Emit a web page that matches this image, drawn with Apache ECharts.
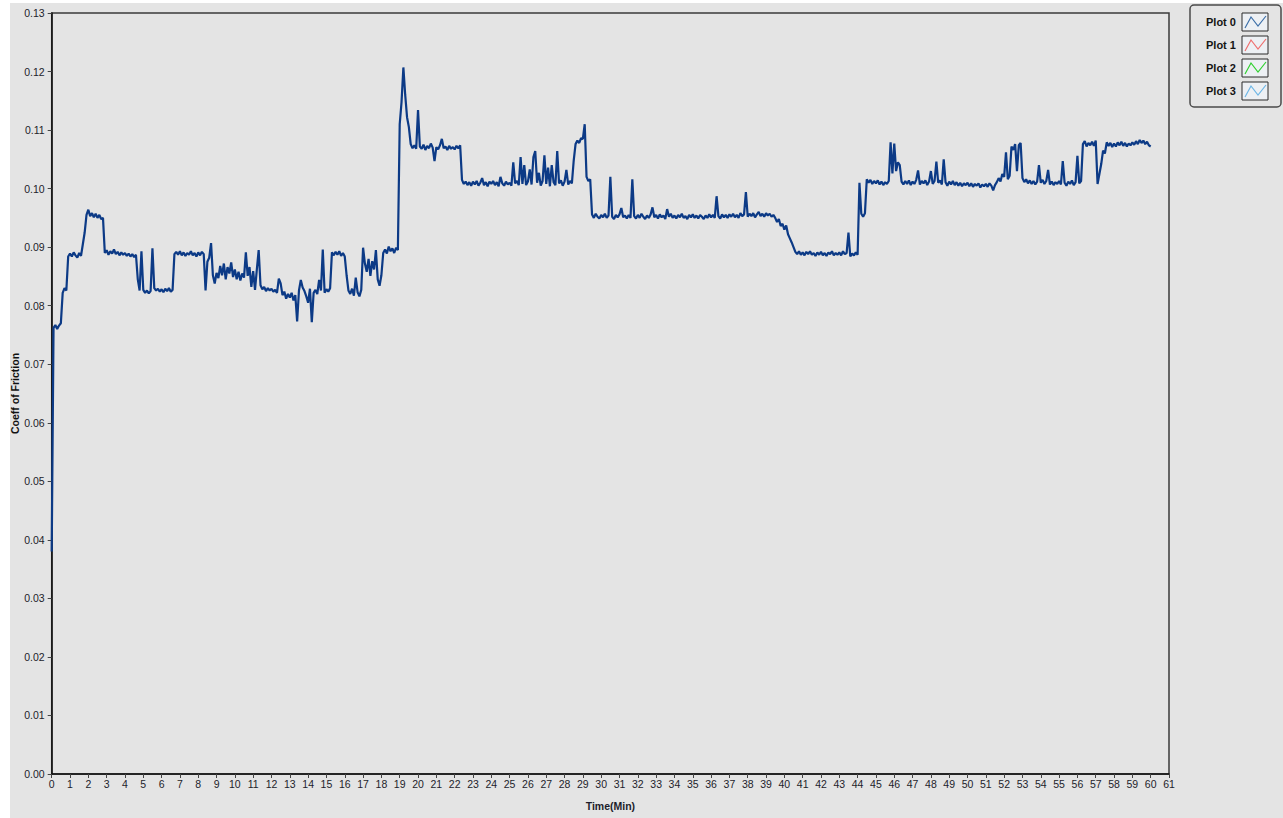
<!DOCTYPE html>
<html>
<head>
<meta charset="utf-8">
<title>Coeff of Friction vs Time</title>
<script src="https://cdn.jsdelivr.net/npm/echarts@6/dist/echarts.min.js"></script>
<style>
  html, body { margin: 0; padding: 0; background: #ffffff; }
  #chart { position: absolute; left: 10px; top: 3px; width: 1273px; height: 815px; background: #e4e4e4; }
</style>
</head>
<body>
<div id="chart"></div>
<script>
// Friction coefficient, one sample every 0.1 min, grouped by 10-minute blocks
const sampleStepMin = 0.1;

const cofMin00to09 = [
  0.0380, 0.0762, 0.0767, 0.0760, 0.0766, 0.0770, 0.0822, 0.0830, 0.0826, 0.0884,
  0.0889, 0.0884, 0.0891, 0.0886, 0.0882, 0.0890, 0.0885, 0.0905, 0.0925, 0.0955,
  0.0964, 0.0953, 0.0958, 0.0951, 0.0957, 0.0950, 0.0955, 0.0948, 0.0950, 0.0890,
  0.0895, 0.0887, 0.0893, 0.0889, 0.0896, 0.0888, 0.0892, 0.0886, 0.0891, 0.0887,
  0.0890, 0.0885, 0.0889, 0.0884, 0.0888, 0.0883, 0.0887, 0.0845, 0.0826, 0.0893,
  0.0827, 0.0822, 0.0826, 0.0821, 0.0825, 0.0898, 0.0830, 0.0826, 0.0829, 0.0824,
  0.0828, 0.0823, 0.0829, 0.0825, 0.0830, 0.0824, 0.0827, 0.0888, 0.0892, 0.0887,
  0.0893, 0.0886, 0.0891, 0.0885, 0.0890, 0.0887, 0.0893, 0.0886, 0.0890, 0.0884,
  0.0891, 0.0886, 0.0892, 0.0888, 0.0826, 0.0875, 0.0882, 0.0907, 0.0852, 0.0838,
  0.0856, 0.0847, 0.0868, 0.0852, 0.0872, 0.0845, 0.0866, 0.0855, 0.0874, 0.0849
];

const cofMin10to19 = [
  0.0862, 0.0845, 0.0858, 0.0843, 0.0855, 0.0848, 0.0891, 0.0851, 0.0866, 0.0832,
  0.0859, 0.0827, 0.0862, 0.0895, 0.0835, 0.0828, 0.0832, 0.0825, 0.0830, 0.0826,
  0.0829, 0.0824, 0.0827, 0.0822, 0.0846, 0.0838, 0.0818, 0.0824, 0.0812, 0.0820,
  0.0814, 0.0822, 0.0809, 0.0818, 0.0773, 0.0826, 0.0844, 0.0831, 0.0825, 0.0816,
  0.0805, 0.0829, 0.0772, 0.0822, 0.0827, 0.0820, 0.0844, 0.0826, 0.0896, 0.0822,
  0.0828, 0.0824, 0.0830, 0.0891, 0.0886, 0.0892, 0.0887, 0.0893, 0.0885, 0.0890,
  0.0884, 0.0852, 0.0826, 0.0820, 0.0829, 0.0817, 0.0848, 0.0823, 0.0816, 0.0827,
  0.0899, 0.0872, 0.0858, 0.0880, 0.0851, 0.0876, 0.0862, 0.0895, 0.0845, 0.0834,
  0.0852, 0.0890, 0.0896, 0.0889, 0.0901, 0.0893, 0.0898, 0.0890, 0.0899, 0.0895,
  0.1110, 0.1148, 0.1207, 0.1160, 0.1122, 0.1105, 0.1076, 0.1069, 0.1074, 0.1068
];

const cofMin20to29 = [
  0.1134, 0.1072, 0.1068, 0.1075, 0.1066, 0.1073, 0.1069, 0.1077, 0.1070, 0.1047,
  0.1071, 0.1067, 0.1074, 0.1085, 0.1069, 0.1072, 0.1066, 0.1073, 0.1068, 0.1071,
  0.1067, 0.1073, 0.1069, 0.1074, 0.1015, 0.1008, 0.1012, 0.1006, 0.1011, 0.1005,
  0.1012, 0.1007, 0.1013, 0.1005, 0.1010, 0.1018, 0.1006, 0.1011, 0.1004, 0.1012,
  0.1008, 0.1013, 0.1006, 0.1011, 0.1004, 0.1020, 0.1009, 0.1005, 0.1012, 0.1007,
  0.1010, 0.1005, 0.1045, 0.1009, 0.1013, 0.1006, 0.1054, 0.1008, 0.1040, 0.1006,
  0.1012, 0.1033, 0.1007, 0.1054, 0.1064, 0.1010, 0.1027, 0.1005, 0.1013, 0.1057,
  0.1008, 0.1036, 0.1004, 0.1040, 0.1011, 0.1006, 0.1064, 0.1009, 0.1014, 0.1005,
  0.1012, 0.1032, 0.1007, 0.1013, 0.1009, 0.1048, 0.1076, 0.1082, 0.1078, 0.1086,
  0.1085, 0.1110, 0.1020, 0.1013, 0.1016, 0.0956, 0.0950, 0.0957, 0.0952, 0.0949
];

const cofMin30to39 = [
  0.0955, 0.0951, 0.0957, 0.0950, 0.0954, 0.1020, 0.0952, 0.0948, 0.0955, 0.0951,
  0.0956, 0.0967, 0.0951, 0.0954, 0.0949, 0.0955, 0.0950, 0.1016, 0.0953, 0.0949,
  0.0955, 0.0950, 0.0957, 0.0952, 0.0948, 0.0954, 0.0950, 0.0956, 0.0968, 0.0951,
  0.0955, 0.0949, 0.0956, 0.0951, 0.0954, 0.0948, 0.0965, 0.0952, 0.0957, 0.0950,
  0.0954, 0.0949, 0.0955, 0.0951, 0.0957, 0.0950, 0.0953, 0.0948, 0.0955, 0.0951,
  0.0956, 0.0950, 0.0954, 0.0949, 0.0955, 0.0952, 0.0948, 0.0954, 0.0950, 0.0956,
  0.0951, 0.0955, 0.0950, 0.0987, 0.0953, 0.0949, 0.0956, 0.0951, 0.0955, 0.0950,
  0.0956, 0.0952, 0.0957, 0.0951, 0.0955, 0.0950, 0.0958, 0.0953, 0.0956, 0.0994,
  0.0952, 0.0957, 0.0953, 0.0958, 0.0951, 0.0956, 0.0960, 0.0953, 0.0957, 0.0952,
  0.0958, 0.0954, 0.0957, 0.0952, 0.0955, 0.0950, 0.0943, 0.0948, 0.0936, 0.0940
];

const cofMin40to49 = [
  0.0930, 0.0937, 0.0922, 0.0915, 0.0908, 0.0900, 0.0892, 0.0888, 0.0893, 0.0887,
  0.0891, 0.0886, 0.0892, 0.0888, 0.0893, 0.0887, 0.0890, 0.0885, 0.0891, 0.0887,
  0.0892, 0.0886, 0.0890, 0.0885, 0.0891, 0.0888, 0.0893, 0.0886, 0.0890, 0.0887,
  0.0891, 0.0886, 0.0893, 0.0888, 0.0890, 0.0925, 0.0884, 0.0889, 0.0886, 0.0891,
  0.0887, 0.1010, 0.0957, 0.0952, 0.0958, 0.1016, 0.1010, 0.1015, 0.1008, 0.1013,
  0.1009, 0.1014, 0.1007, 0.1012, 0.1006, 0.1011, 0.1008, 0.1013, 0.1079, 0.1026,
  0.1077, 0.1030, 0.1045, 0.1040, 0.1012, 0.1007, 0.1013, 0.1008, 0.1014, 0.1006,
  0.1012, 0.1008, 0.1015, 0.1031, 0.1007, 0.1013, 0.1009, 0.1014, 0.1006, 0.1012,
  0.1030, 0.1008, 0.1013, 0.1046, 0.1010, 0.1014, 0.1007, 0.1050, 0.1011, 0.1005,
  0.1012, 0.1007, 0.1013, 0.1006, 0.1011, 0.1005, 0.1010, 0.1004, 0.1009, 0.1006
];

const cofMin50to60 = [
  0.1010, 0.1004, 0.1009, 0.1003, 0.1008, 0.1005, 0.1009, 0.1002, 0.1007, 0.1004,
  0.1008, 0.1003, 0.1009, 0.1005, 0.0997, 0.1006, 0.1011, 0.1018, 0.1012, 0.1025,
  0.1020, 0.1062, 0.1016, 0.1022, 0.1072, 0.1066, 0.1076, 0.1030, 0.1074, 0.1078,
  0.1018, 0.1011, 0.1016, 0.1009, 0.1014, 0.1008, 0.1013, 0.1007, 0.1012, 0.1040,
  0.1010, 0.1015, 0.1008, 0.1013, 0.1032, 0.1007, 0.1012, 0.1006, 0.1011, 0.1008,
  0.1013, 0.1007, 0.1047, 0.1010, 0.1005, 0.1012, 0.1008, 0.1014, 0.1006, 0.1011,
  0.1056, 0.1009, 0.1013, 0.1076, 0.1081, 0.1072, 0.1078, 0.1074, 0.1080, 0.1073,
  0.1082, 0.1008, 0.1025, 0.1042, 0.1065, 0.1060, 0.1079, 0.1073, 0.1078, 0.1071,
  0.1077, 0.1072, 0.1079, 0.1074, 0.1080, 0.1073, 0.1078, 0.1072, 0.1077, 0.1074,
  0.1079, 0.1075, 0.1081, 0.1076, 0.1083, 0.1078, 0.1082, 0.1076, 0.1080, 0.1074,
  0.1072
];

const plotNames = ['Plot 0', 'Plot 1', 'Plot 2', 'Plot 3'];
const plotColors = ['#3d6fa8', '#ef6f6f', '#30d030', '#6db6e6'];

const xAxisRange = { min: 0, max: 61, interval: 1 };
const yAxisRange = { min: 0, max: 0.13, interval: 0.01 };

// Build [time, value] pairs on the sample grid
const cofValues = [].concat(cofMin00to09, cofMin10to19, cofMin20to29, cofMin30to39, cofMin40to49, cofMin50to60);
const cofSeries = cofValues.map((v, i) => [Math.round(i * sampleStepMin * 10) / 10, v]);

const sansFamily = '"Liberation Sans", Arial, sans-serif';
const tickFont = { fontFamily: sansFamily, fontSize: 10.5, color: '#1d1d2b' };

// Legend panel (drawn as graphics: frame, names, small line swatches)
const legendGraphics = [{
  type: 'rect',
  shape: { x: 1180, y: 2, width: 91, height: 102, r: 4 },
  style: { fill: '#e4e4e4', stroke: '#4a4a4a', lineWidth: 1.5 },
  z: 10
}];
plotNames.forEach((name, i) => {
  const y0 = 10 + 23 * i;
  legendGraphics.push({
    type: 'text',
    x: 1196, y: y0 + 9,
    style: { text: name, fill: '#151515', font: 'bold 11px "Liberation Sans", Arial, sans-serif', verticalAlign: 'middle' },
    z: 11
  });
  legendGraphics.push({
    type: 'rect',
    shape: { x: 1232, y: y0, width: 26, height: 18 },
    style: { fill: '#edf0f4', stroke: '#2a2a2a', lineWidth: 1 },
    z: 11
  });
  legendGraphics.push({
    type: 'polyline',
    shape: { points: [[1235, y0 + 15], [1241, y0 + 4], [1248, y0 + 13], [1256, y0 + 3]] },
    style: { stroke: plotColors[i], lineWidth: 1.2, fill: null },
    z: 12
  });
});

const chart = echarts.init(document.getElementById('chart'), null, { renderer: 'svg' });
chart.setOption({
  animation: false,
  backgroundColor: '#e4e4e4',
  grid: {
    left: 41.7, top: 10, right: 114, bottom: 44,
    containLabel: false,
    outerBoundsMode: 'none',
    show: true,
    backgroundColor: '#e4e4e4',
    borderColor: '#3a3a3a',
    borderWidth: 1.5
  },
  xAxis: {
    type: 'value',
    min: xAxisRange.min, max: xAxisRange.max, interval: xAxisRange.interval,
    name: 'Time(Min)',
    nameLocation: 'middle',
    nameGap: 26,
    nameMoveOverlap: false,
    nameTextStyle: { fontFamily: sansFamily, fontSize: 10.5, fontWeight: 'bold', color: '#1d1d2b' },
    axisLine: { show: true, lineStyle: { color: '#111', width: 1.5 } },
    axisTick: { show: true, length: 4, lineStyle: { color: '#444' } },
    axisLabel: Object.assign({ margin: 4, formatter: v => String(v) }, tickFont),
    splitLine: { show: false }
  },
  yAxis: {
    type: 'value',
    min: yAxisRange.min, max: yAxisRange.max, interval: yAxisRange.interval,
    name: 'Coeff of Friction',
    nameLocation: 'middle',
    nameGap: 31,
    nameMoveOverlap: false,
    nameTextStyle: { fontFamily: sansFamily, fontSize: 10.5, fontWeight: 'bold', color: '#111' },
    axisLine: { show: true, lineStyle: { color: '#111', width: 1.5 } },
    axisTick: { show: true, length: 4, lineStyle: { color: '#444' } },
    axisLabel: Object.assign({ margin: 7, formatter: v => v.toFixed(2) }, tickFont),
    splitLine: { show: false }
  },
  graphic: legendGraphics,
  series: [{
    name: plotNames[0],
    type: 'line',
    data: cofSeries,
    showSymbol: false,
    symbol: 'none',
    sampling: null,
    lineStyle: { color: '#0c3a86', width: 2.2 },
    itemStyle: { color: '#0c3a86' }
  }]
});
</script>
</body>
</html>
